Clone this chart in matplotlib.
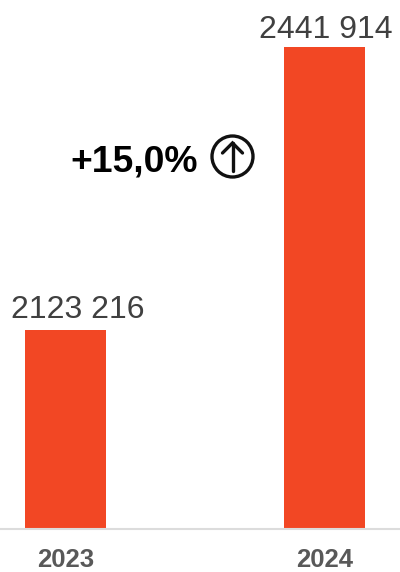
import matplotlib
matplotlib.use("Agg")
import matplotlib.pyplot as plt
from matplotlib.patches import Circle

years = ["2023", "2024"]
values = [2123216, 2441914]
value_labels = ["2123 216", "2441 914"]
change_label = "+15,0%"

W, H = 400, 572
plt.rcParams["font.family"] = ["Liberation Sans", "DejaVu Sans"]

fig = plt.figure(figsize=(W / 100, H / 100), dpi=100, facecolor="white")

# axes runs from the top edge down to the baseline at y=528
ax = fig.add_axes([0, (H - 528.5) / H, 1, 528.5 / H])
ax.bar(range(len(years)), values, width=0.3127, color="#f24724", zorder=2)
ax.set_xlim(-0.253, 1.2915)
ax.set_ylim(1900300, 2494800)

for s in ["top", "left", "right"]:
    ax.spines[s].set_visible(False)
ax.spines["bottom"].set_color("#dcdcdc")
ax.spines["bottom"].set_linewidth(1.5)
ax.set_yticks([])
ax.set_xticks(range(len(years)))
ax.set_xticklabels(years, fontsize=18.5, fontweight="bold", color="#595959")
ax.tick_params(axis="x", length=0, pad=14)

# labels are not centred on the bars in the original, offsets in pixels
label_dx = [12.5, 1]
label_dy = [12, 9]
for i, v in enumerate(values):
    ax.annotate(value_labels[i], (i, v), xytext=(label_dx[i], label_dy[i]), textcoords="offset pixels",
                ha="center", va="baseline", fontsize=23, color="#404040")

# overlay in pixel coords for the change marker
ov = fig.add_axes([0, 0, 1, 1], facecolor="none")
ov.text(198, 171.5, change_label, ha="right", va="baseline", fontsize=26.8,
        fontweight="bold", color="black")
ov.add_patch(Circle((232.5, 156.5), 20.5, fill=False, ec="#111111", lw=2.4))
ov.plot([232.5, 232.5], [143, 171], color="#111111", lw=2.4, solid_capstyle="round")
ov.plot([222.5, 232.5, 242.5], [153, 143, 153], color="#111111", lw=2.4,
        solid_capstyle="round", solid_joinstyle="miter")
ov.set_xlim(0, W)
ov.set_ylim(H, 0)
ov.axis("off")

fig.savefig("out.png", dpi=100)
